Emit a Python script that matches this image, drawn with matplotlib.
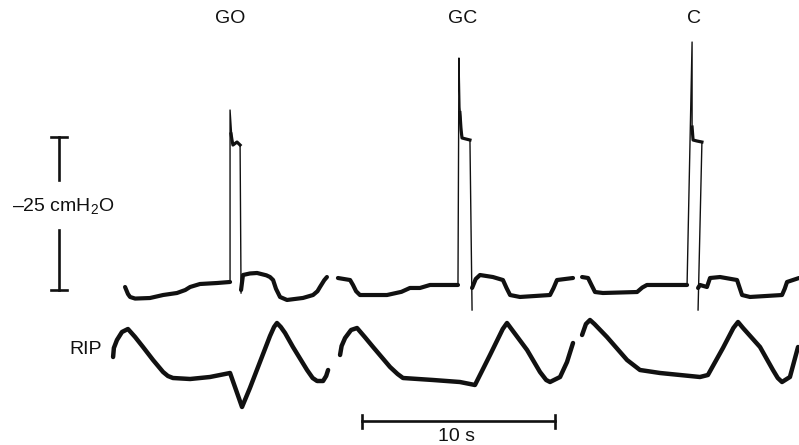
import matplotlib
matplotlib.use('Agg')
import matplotlib.pyplot as plt

plt.rcParams['font.family'] = ['Liberation Sans', 'DejaVu Sans']
plt.rcParams['mathtext.fontset'] = 'custom'
plt.rcParams['mathtext.rm'] = 'Liberation Sans'

ink = '#111111'

# oesophageal pressure (cmH2O, negative = up), time in s
# GO segment
p1_t = [0.78, 0.93, 1.04, 1.30, 2.07, 2.75, 3.47, 3.90, 4.15, 4.66, 5.54, 6.22]
p1_p = [-0.49, 0.65, 1.14, 1.40, 1.31, 0.82, 0.49, 0.0, -0.49, -0.98, -1.14, -1.31]
s1_t = [6.22, 6.22, 6.32, 6.37, 6.58, 6.74, 6.79]
s1_p = [-1.31, -29.41, -24.51, -23.69, -24.18, -23.69, 0.49]
pl1_t = [6.27, 6.32, 6.37, 6.58, 6.74]
pl1_p = [-25.5, -24.51, -23.69, -24.18, -23.69]
q1_t = [6.79, 6.89, 7.25, 7.62, 8.10, 8.29, 8.45, 8.60, 8.81, 9.17, 10.00, 10.52, 10.75, 10.88, 11.10, 11.24]
q1_p = [0.0, -2.45, -2.70, -2.78, -2.40, -2.12, -1.63, -0.2, 1.14, 1.63, 1.30, 0.82, 0.2, -0.49, -1.6, -2.12]

# GC segment
p2_t = [11.81, 12.44, 12.59, 12.75, 12.95, 14.35, 15.10, 15.54, 16.06, 16.58, 18.03]
p2_p = [-1.96, -1.63, -0.82, 0.2, 0.82, 0.82, 0.3, -0.33, -0.33, -0.82, -0.82]
s2_t = [18.03, 18.08, 18.13, 18.24, 18.65, 18.76]
s2_p = [-0.82, -37.91, -29.90, -24.84, -24.51, 3.27]
pl2_t = [18.13, 18.19, 18.24, 18.45, 18.65]
pl2_p = [-29.0, -26.14, -24.84, -24.67, -24.51]
q2_t = [18.76, 18.95, 19.17, 19.84, 20.36, 20.55, 20.73, 21.24, 22.80, 22.98, 23.16, 23.99]
q2_p = [-0.33, -1.8, -2.45, -2.12, -1.63, -0.3, 0.82, 1.14, 0.82, -0.3, -1.63, -1.96]

# C segment
p3_t = [24.46, 24.77, 24.95, 25.13, 25.54, 27.31, 27.58, 27.82, 29.90]
p3_p = [-2.12, -1.96, -0.8, 0.33, 0.49, 0.33, -0.4, -0.82, -0.82]
s3_t = [29.90, 30.16, 30.16, 30.21, 30.41, 30.67, 30.47]
s3_p = [-0.82, -40.52, -26.63, -24.51, -24.35, -24.18, 3.27]
pl3_t = [30.16, 30.21, 30.41, 30.67]
pl3_p = [-26.63, -24.51, -24.35, -24.18]
q3_t = [30.47, 30.57, 30.93, 31.09, 31.61, 32.49, 32.62, 32.75, 33.16, 34.82, 34.96, 35.08, 35.70]
q3_p = [-0.33, -0.82, -0.49, -1.96, -2.12, -1.63, -0.4, 0.82, 1.14, 0.82, -0.2, -1.31, -1.96]

# RIP (arbitrary units)
r1_t = [0.16, 0.20, 0.36, 0.62, 0.93, 1.30, 1.71, 2.23, 2.75, 3.00, 3.26, 4.15, 5.18, 6.22,
        6.53, 6.84, 7.25, 7.77, 8.29, 8.50, 8.65, 8.85, 9.07, 9.48, 10.21, 10.50, 10.73, 11.04, 11.20, 11.30]
r1_v = [2.3, 3.2, 4.0, 4.8, 5.1, 4.3, 3.3, 2.0, 0.8, 0.4, 0.2, 0.1, 0.3, 0.7,
        -1.0, -2.7, -0.8, 1.8, 4.4, 5.3, 5.7, 5.3, 4.7, 3.3, 1.0, 0.2, -0.1, -0.1, 0.4, 1.0]
r2_t = [11.92, 12.00, 12.18, 12.49, 12.80, 13.20, 13.63, 14.51, 14.90, 15.18, 16.74, 18.13, 18.91,
        19.69, 20.35, 20.57, 20.80, 21.61, 22.28, 22.60, 22.80, 23.32, 23.68, 23.99]
r2_v = [2.5, 3.4, 4.2, 5.0, 5.2, 4.3, 3.3, 1.3, 0.6, 0.2, 0.0, -0.2, -0.5,
        2.5, 5.1, 5.7, 5.1, 3.0, 0.8, 0.0, -0.2, 0.3, 1.8, 3.7]
r3_t = [24.46, 24.66, 24.87, 25.10, 25.75, 26.79, 27.46, 28.50, 30.57, 30.98, 31.76,
        32.30, 32.54, 32.80, 33.68, 34.35, 34.60, 34.82, 35.23, 35.65]
r3_v = [4.5, 5.6, 6.0, 5.6, 4.3, 2.0, 1.0, 0.7, 0.3, 0.5, 3.2,
        5.2, 5.8, 5.2, 3.3, 1.0, 0.2, -0.2, 0.3, 3.3]

labels = ['GO', 'GC', 'C']
label_t = [6.22, 18.29, 30.26]

fig = plt.figure(figsize=(7.99, 4.45), dpi=100)
ax = fig.add_axes([0, 0, 1, 1])
ax.set_xlim(-5.70, 35.70)
ax.set_ylim(25.33, -47.39)
ax.axis('off')

for bt, bp in [(p1_t, p1_p), (q1_t, q1_p), (p2_t, p2_p), (q2_t, q2_p), (p3_t, p3_p), (q3_t, q3_p)]:
    ax.plot(bt, bp, color=ink, lw=3.0, solid_joinstyle='round', solid_capstyle='round')
for st, sp in [(s1_t, s1_p), (s2_t, s2_p), (s3_t, s3_p)]:
    ax.plot(st, sp, color=ink, lw=1.0)
for lt, lp in [(pl1_t, pl1_p), (pl2_t, pl2_p), (pl3_t, pl3_p)]:
    ax.plot(lt, lp, color=ink, lw=2.3)

for lab, lt in zip(labels, label_t):
    ax.text(lt, -44.44, lab, ha='center', va='center', fontsize=14, color=ink)

# pressure calibration bar (25 cmH2O)
bx = -2.64
ax.plot([bx, bx], [-25, -18.0], color=ink, lw=1.9)
ax.plot([bx, bx], [-9.8, 0], color=ink, lw=1.9)
ax.plot([bx - 0.4, bx + 0.4], [-25, -25], color=ink, lw=1.9)
ax.plot([bx - 0.4, bx + 0.4], [0, 0], color=ink, lw=1.9)
ax.text(-2.44, -13.56, '\u201325 cmH$_\\mathrm{2}$O', ha='center', va='center',
        fontsize=14, color=ink)

# time bar 10 s
ts = 13.06
ax.plot([ts, ts + 10], [21.41, 21.41], color=ink, lw=1.9)
ax.plot([ts, ts], [20.4, 22.5], color=ink, lw=1.9)
ax.plot([ts + 10, ts + 10], [20.4, 22.5], color=ink, lw=1.9)
ax.text(ts + 4.9, 23.9, '10 s', ha='center', va='center', fontsize=14, color=ink)

ax2 = ax.twinx()
ax2.set_ylim(-6.5, 38.0)
ax2.axis('off')
for rt, rv in [(r1_t, r1_v), (r2_t, r2_v), (r3_t, r3_v)]:
    ax2.plot(rt, rv, color=ink, lw=3.2, solid_joinstyle='round', solid_capstyle='round')
ax2.text(-1.24, 3.0, 'RIP', ha='center', va='center', fontsize=14, color=ink)

fig.savefig('out.png', dpi=100)
